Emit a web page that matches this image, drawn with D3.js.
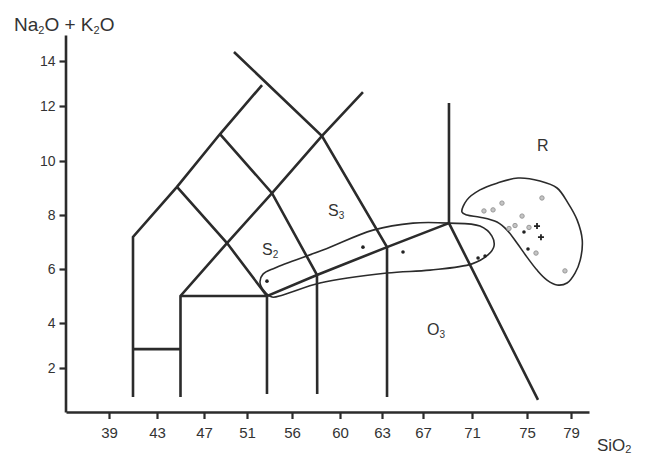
<!DOCTYPE html>
<html><head><meta charset="utf-8">
<script src="https://cdn.jsdelivr.net/npm/d3@7"></script>
<style>
html,body{margin:0;padding:0;background:#fff;}
svg{display:block;font-family:Arial,"Liberation Sans",Helvetica,sans-serif;}
</style></head><body>
<svg id="chart" width="647" height="456"></svg>
<script>
// Axis tick labels
const xTicks = [39, 43, 47, 51, 56, 60, 63, 67, 71, 75, 79];
const yTicks = [2, 4, 6, 8, 10, 12, 14];

// TAS field boundaries, as [SiO2, Na2O+K2O] polylines
const boundaries = [
  [[41, 0.68], [41, 7.19], [44.70, 9.04], [48.49, 10.98], [52.67, 12.93]],
  [[41, 2.84], [45, 2.84]],
  [[45, 0.68], [45, 5.0], [49.14, 6.96], [53.78, 8.81], [58.5, 10.91], [61.64, 12.62]],
  [[45, 5.0], [53.22, 5.0]],
  [[53.22, 0.82], [53.22, 5.0], [58.08, 5.78], [63.49, 6.81], [69.12, 7.70]],
  [[44.70, 9.04], [49.14, 6.96], [53.22, 5.0]],
  [[48.49, 10.98], [53.78, 8.81], [58.08, 5.78], [58.1, 0.82]],
  [[49.79, 14.4], [58.5, 10.91], [63.49, 6.81], [63.49, 0.68]],
  [[69.12, 12.13], [69.12, 7.70], [76.0, 0.55]]
];

// Sample group outlines
const outlineIntermediate = [
  [52.78, 5.81], [54.11, 6.04], [58.58, 6.70], [62.36, 7.44], [66.02, 7.70], [69.12, 7.70],
  [71.58, 7.59], [72.45, 7.22], [72.60, 6.85], [72.16, 6.52], [71.0, 6.19], [67.57, 5.96],
  [63.49, 5.85], [58.33, 5.48], [55.0, 5.04], [53.78, 4.96], [52.89, 5.19], [52.44, 5.52]
];
const outlineRhyolite = [
  [70.18, 8.11], [70.59, 8.56], [71.58, 8.93], [72.82, 9.18], [74.35, 9.37], [76.18, 9.26],
  [77.73, 9.0], [78.73, 8.44], [79.55, 7.81], [80.0, 7.07], [79.82, 6.33], [79.36, 5.85],
  [78.64, 5.48], [77.73, 5.41], [76.82, 5.59], [75.91, 5.96], [75.0, 6.44], [74.27, 6.96],
  [73.55, 7.44], [72.82, 7.74], [71.58, 7.92], [70.59, 8.0]
];

// Samples
const samplesGray = [
  [71.87, 8.15], [72.53, 8.19], [73.18, 8.44], [76.36, 8.63], [74.64, 7.96],
  [74.13, 7.61], [73.69, 7.50], [75.18, 7.54], [75.82, 6.59], [78.45, 5.93]
];
const samplesBlack = [
  [74.78, 7.37], [75.09, 6.74], [71.44, 6.41], [71.95, 6.48],
  [53.22, 5.55], [61.64, 6.81], [65.05, 6.63]
];
const samplesCross = [[75.91, 7.59], [76.27, 7.18]];

// Field labels: [name, subscript, SiO2, Na2O+K2O]
const fieldLabels = [
  ["S", "2", 52.67, 6.52],
  ["S", "3", 59.0, 7.96],
  ["O", "3", 67.33, 3.47],
  ["R", "", 75.91, 10.36]
];

const svg = d3.select("#chart");
const ink = "#2b2b2b";

// Piecewise scales following the tick spacing of the diagram
const x = d3.scaleLinear()
  .domain([35.4, ...xTicks, 80.6])
  .range([66, 109, 157, 204, 247, 292, 340, 382, 423, 472, 527, 571, 589]);
const y = d3.scaleLinear()
  .domain([0, ...yTicks, 15.16])
  .range([412, 368, 323, 269, 215, 161, 106, 61, 35]);

// Axes
const gx = svg.append("g").attr("transform", "translate(0,412)")
  .call(d3.axisBottom(x).tickValues(xTicks).tickSize(7).tickSizeOuter(0).tickPadding(8));
const gy = svg.append("g").attr("transform", "translate(65.5,0)")
  .call(d3.axisLeft(y).tickValues(yTicks).tickSize(6).tickSizeOuter(0).tickPadding(4));
[gx, gy].forEach(g => {
  g.select(".domain").attr("stroke", ink).attr("stroke-width", 2.6);
  g.selectAll(".tick line").attr("stroke", ink).attr("stroke-width", 2.2);
  g.selectAll(".tick text").attr("fill", "#333")
    .attr("font-family", "Arial,'Liberation Sans',sans-serif");
});
gx.selectAll(".tick text").attr("font-size", 15);
gy.selectAll(".tick text").attr("font-size", 14);

// Field boundaries
const line = d3.line().x(d => x(d[0])).y(d => y(d[1]));
svg.append("g").selectAll("path").data(boundaries).join("path")
  .attr("d", line).attr("fill", "none").attr("stroke", ink)
  .attr("stroke-width", 2.6).attr("stroke-linejoin", "miter").attr("stroke-linecap", "butt");

// Outlines
const closed = d3.line().x(d => x(d[0])).y(d => y(d[1]))
  .curve(d3.curveCatmullRomClosed.alpha(0.5));
svg.append("g").selectAll("path").data([outlineIntermediate, outlineRhyolite]).join("path")
  .attr("d", closed).attr("fill", "none").attr("stroke", ink).attr("stroke-width", 1.6);

// Samples
svg.append("g").selectAll("circle").data(samplesGray).join("circle")
  .attr("cx", d => x(d[0])).attr("cy", d => y(d[1])).attr("r", 2.2)
  .attr("fill", "#c4c4c4").attr("stroke", "#9a9a9a").attr("stroke-width", 1);
svg.append("g").selectAll("circle").data(samplesBlack).join("circle")
  .attr("cx", d => x(d[0])).attr("cy", d => y(d[1])).attr("r", 1.8)
  .attr("fill", "#222");
svg.append("g").selectAll("path").data(samplesCross).join("path")
  .attr("d", d => { const cx = x(d[0]), cy = y(d[1]);
    return `M${cx - 3},${cy}H${cx + 3}M${cx},${cy - 3}V${cy + 3}`; })
  .attr("stroke", "#222").attr("stroke-width", 1.8);

// Field labels
const fl = svg.append("g").selectAll("text").data(fieldLabels).join("text")
  .attr("x", d => x(d[2])).attr("y", d => y(d[3]))
  .attr("font-size", 16).attr("fill", "#333");
fl.append("tspan").text(d => d[0]);
fl.append("tspan").attr("font-size", 10).attr("dy", 3).text(d => d[1]);

// Axis titles
const ty = svg.append("text").attr("x", 14).attr("y", 31).attr("font-size", 19).attr("fill", "#333");
ty.append("tspan").text("Na");
ty.append("tspan").attr("font-size", 11).attr("dy", 3).text("2");
ty.append("tspan").attr("dy", -3).text("O + K");
ty.append("tspan").attr("font-size", 11).attr("dy", 3).text("2");
ty.append("tspan").attr("dy", -3).text("O");

const tx = svg.append("text").attr("x", 597).attr("y", 451).attr("font-size", 17).attr("fill", "#333");
tx.append("tspan").text("SiO");
tx.append("tspan").attr("font-size", 11).attr("dy", 2).text("2");
</script>
</body></html>
